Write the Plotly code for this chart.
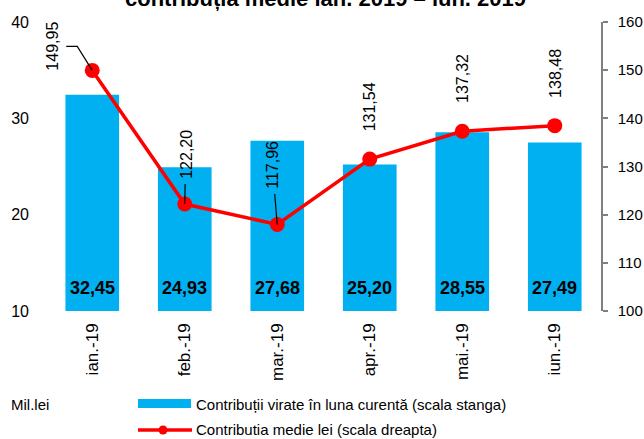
import plotly.graph_objects as go

months = ["ian.-19", "feb.-19", "mar.-19", "apr.-19", "mai.-19", "iun.-19"]
contributii = [32.45, 24.93, 27.68, 25.20, 28.55, 27.49]
contributia_medie = [149.95, 122.20, 117.96, 131.54, 137.32, 138.48]
left_ticks = [10, 20, 30, 40]
right_ticks = [100, 110, 120, 130, 140, 150, 160]

FONT = "Liberation Sans, Arial, sans-serif"
W, H = 644, 439
L, R, T, B = 46, 43, 22, 128
PW, PH = W - L - R, H - T - B


def px(x):
    return (x - L) / PW


def py(y):
    return (H - B - y) / PH


def fmt(v):
    return f"{v:.2f}".replace(".", ",")


fig = go.Figure()
fig.add_trace(go.Bar(
    x=months, y=contributii, marker=dict(color="#00B0F0", line=dict(width=0)),
    name="Contribuţii virate în luna curentă (scala stanga)", showlegend=False,
    hoverinfo="skip"))
fig.add_trace(go.Scatter(
    x=months, y=contributia_medie, yaxis="y2", mode="lines+markers",
    line=dict(color="#FF0000", width=3.5), marker=dict(color="#FF0000", size=15),
    name="Contributia medie lei (scala dreapta)", showlegend=False))

ann = []
shapes = []
# bar value labels at the bottom of each bar
for m, v in zip(months, contributii):
    ann.append(dict(x=m, xref="x", y=0, yref="paper", yanchor="bottom", yshift=11,
                    text=f"<b>{fmt(v)}</b>", showarrow=False,
                    font=dict(family=FONT, size=18, color="black")))

# line value labels (rotated)
leader = {1: (1, -50), 2: (-5, -60)}
for i, (m, v) in enumerate(zip(months, contributia_medie)):
    if i == 0:
        # label left of the point with an elbow leader line
        ann.append(dict(x=m, xref="x", y=v, yref="y2", text=fmt(v), textangle=-90,
                        showarrow=False, xshift=-40, yshift=24,
                        font=dict(family=FONT, size=16, color="black")))
        shapes.append(dict(type="path", xref="x", yref="y2", xsizemode="pixel",
                           ysizemode="pixel", xanchor=0, yanchor=v,
                           path="M-26,24 L-15,24 L0,0",
                           line=dict(color="black", width=1.2)))
    elif i in leader:
        ax, ay = leader[i]
        ann.append(dict(x=m, xref="x", y=v, yref="y2", text=fmt(v), textangle=-90,
                        showarrow=True, ax=ax, ay=ay, arrowhead=0, arrowwidth=1.2,
                        arrowcolor="black", standoff=0, borderpad=5,
                        font=dict(family=FONT, size=16, color="black")))
    else:
        ann.append(dict(x=m, xref="x", y=v, yref="y2", text=fmt(v), textangle=-90,
                        showarrow=False, yanchor="bottom", yshift=26,
                        font=dict(family=FONT, size=16, color="black")))

# title (partly cut at the top, as in the source)
ann.append(dict(x=px(325), xref="paper", y=1, yref="paper", yanchor="bottom", yshift=9,
                xanchor="center", showarrow=False,
                text="<b>contribuția medie ian. 2019 – iun. 2019</b>",
                font=dict(family=FONT, size=22, color="black")))

# manual legend
ann.append(dict(x=px(9), xref="paper", y=py(404), yref="paper", xanchor="left",
                yanchor="middle", showarrow=False, text="Mil.lei",
                font=dict(family=FONT, size=15, color="black")))
ann.append(dict(x=px(194), xref="paper", y=py(404), yref="paper", xanchor="left",
                yanchor="middle", showarrow=False,
                text="Contribuții virate în luna curentă (scala stanga)",
                font=dict(family=FONT, size=15, color="black")))
ann.append(dict(x=px(194), xref="paper", y=py(430), yref="paper", xanchor="left",
                yanchor="middle", showarrow=False,
                text="Contributia medie lei (scala dreapta)",
                font=dict(family=FONT, size=15, color="black")))

shapes += [
    dict(type="rect", xref="paper", yref="paper", x0=px(138), x1=px(191),
         y0=py(408), y1=py(399), fillcolor="#00B0F0", line=dict(width=0)),
    dict(type="line", xref="paper", yref="paper", x0=px(138), x1=px(192),
         y0=py(430), y1=py(430), line=dict(color="#FF0000", width=3.5)),
    dict(type="circle", xref="paper", yref="paper", x0=px(158.5), x1=px(167.5),
         y0=py(434.5), y1=py(425.5), fillcolor="#FF0000", line=dict(width=0)),
]

fig.update_layout(
    width=W, height=H, margin=dict(l=L, r=R, t=T, b=B, autoexpand=False),
    paper_bgcolor="white", plot_bgcolor="white",
    bargap=0.42, showlegend=False,
    font=dict(family=FONT, size=16, color="black"),
    xaxis=dict(type="category", range=[-0.5, len(months) - 0.5], tickangle=-90,
               showline=False, showgrid=False,
               ticks="", ticklabelstandoff=8, automargin=False,
               tickfont=dict(family=FONT, size=17, color="black")),
    yaxis=dict(range=[10, 40], tickvals=left_ticks, showline=False, showgrid=False,
               zeroline=False, ticks="", ticklabelstandoff=16, automargin=False,
               tickfont=dict(family=FONT, size=16, color="black")),
    yaxis2=dict(range=[100, 160], tickvals=right_ticks, overlaying="y", side="right",
                showline=True, linecolor="#808080", linewidth=1.5, ticks="outside",
                ticklen=5, tickcolor="#808080", tickwidth=1.5, showgrid=False,
                zeroline=False, ticklabelstandoff=7, automargin=False,
                tickfont=dict(family=FONT, size=15, color="black")),
    annotations=ann, shapes=shapes,
)

fig.write_html("out.html", config={"displayModeBar": False},
               post_script="document.body.style.margin='0px';document.body.style.overflow='hidden';")
